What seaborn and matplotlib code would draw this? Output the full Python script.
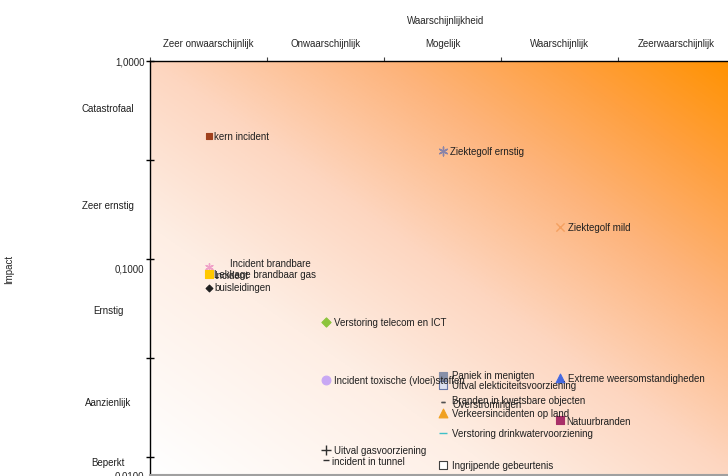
import numpy as np
import pandas as pd
import matplotlib
matplotlib.use("Agg")
import matplotlib.pyplot as plt
from matplotlib import ticker
from matplotlib.colors import LinearSegmentedColormap
import seaborn as sns

# categories
likelihood_labels = ["Zeer onwaarschijnlijk", "Onwaarschijnlijk", "Mogelijk",
                     "Waarschijnlijk", "Zeerwaarschijnlijk"]
impact_labels = ["Catastrofaal", "Zeer ernstig", "Ernstig", "Aanzienlijk", "Beperkt"]
impact_label_at = [0.593, 0.201, 0.0625, 0.0225, 0.0116]
impact_band_edges = [1.0, 0.332, 0.110, 0.0367, 0.0122]
impact_ticks = [1.0, 0.1, 0.01]

# risks (likelihood in category units, impact on log scale)
risks = [
    "kern incident", "Ziektegolf ernstig", "Ziektegolf mild",
    "Incident brandbare", "Lekkage brandbaar gas", "Incident\nbuisleidingen",
    "Verstoring telecom en ICT", "Incident toxische (vloei)stoffen",
    "Uitval gasvoorziening", "incident in tunnel",
    "Paniek in menigten", "Uitval elekticiteitsvoorziening",
    "Branden in kwetsbare objecten", "Overstromingen",
    "Verkeersincidenten op land", "Verstoring drinkwatervoorziening",
    "Ingrijpende gebeurtenis", "Extreme weersomstandigheden", "Natuurbranden",
]
likelihood = [0.5, 2.5, 3.5,
              0.5, 0.5, 0.5,
              1.5, 1.5,
              1.5, 1.5,
              2.5, 2.5,
              2.5, 2.5,
              2.5, 2.5,
              2.5, 3.5, 3.5]
impact = [0.432, 0.366, 0.158,
          0.101, 0.094, 0.080,
          0.0547, 0.0289,
          0.0132, 0.0118,
          0.0300, 0.0272,
          0.0225, 0.0225,
          0.0199, 0.0160,
          0.0112, 0.0294, 0.0184]

df = pd.DataFrame({"risk": risks, "likelihood": likelihood, "impact": impact})

# marker, face colour, edge colour, size
styles = {
    "kern incident": ("s", "#A0401C", "#A0401C", 20),
    "Ziektegolf ernstig": ((6, 2, 0), "#8A84A8", None, 40),
    "Ziektegolf mild": ("x", "#F4A060", None, 35),
    "Incident brandbare": ((6, 2, 0), "#F0A0C8", None, 30),
    "Lekkage brandbaar gas": ("s", "#FFC800", "#FFC800", 30),
    "Incident\nbuisleidingen": ("D", "#202020", "#202020", 12),
    "Verstoring telecom en ICT": ("D", "#8CC43C", "#8CC43C", 22),
    "Incident toxische (vloei)stoffen": ("o", "#C8A8F4", "#C8A8F4", 40),
    "Uitval gasvoorziening": ("+", "#303030", None, 50),
    "incident in tunnel": ("_", "#303030", None, 25),
    "Paniek in menigten": ("s", "#8890A8", "#8890A8", 30),
    "Uitval elekticiteitsvoorziening": ("s", "#DCE0F0", "#6878A8", 30),
    "Branden in kwetsbare objecten": ("_", "#505050", None, 12),
    "Overstromingen": ("_", "#505050", None, 12),
    "Verkeersincidenten op land": ("^", "#F0A020", "#F0A020", 40),
    "Verstoring drinkwatervoorziening": ("_", "#40C0C8", None, 40),
    "Ingrijpende gebeurtenis": ("s", "#FFFFFF", "#404040", 40),
    "Extreme weersomstandigheden": ("^", "#4468E0", "#4468E0", 40),
    "Natuurbranden": ("s", "#A83068", "#A83068", 30),
}
# label offsets in pixels (default is right of the marker)
label_offsets = {
    "Ziektegolf ernstig": (8, 0),
    "Ziektegolf mild": (8, 0),
    "Incident brandbare": (21, 4),
    "Incident\nbuisleidingen": (6, 7),
    "Verstoring telecom en ICT": (9, 0),
    "Incident toxische (vloei)stoffen": (9, 0),
    "Uitval gasvoorziening": (9, 0),
    "incident in tunnel": (6, -1),
    "Paniek in menigten": (10, 1),
    "Uitval elekticiteitsvoorziening": (10, 0),
    "Branden in kwetsbare objecten": (10, 2),
    "Overstromingen": (10, -2),
    "Verkeersincidenten op land": (10, 0),
    "Verstoring drinkwatervoorziening": (10, 0),
    "Ingrijpende gebeurtenis": (10, 0),
    "Extreme weersomstandigheden": (8, 0),
    "Natuurbranden": (7, -1),
}

sns.set_theme(style="white")
plt.rcParams["font.family"] = ["Liberation Sans", "DejaVu Sans"]
plt.rcParams["font.size"] = 7

W, H = 728, 477
fig = plt.figure(figsize=(W / 100, H / 100), dpi=100)
rect = [150 / W, 1 / H, 585 / W, 414 / H]

# gradient background: white in the lower left, orange in the upper right
bg = fig.add_axes(rect, zorder=0)
u, v = np.meshgrid(np.linspace(0, 1, 300), np.linspace(0, 1, 300))
t = 0.5 * u + 0.5 * v
cmap = LinearSegmentedColormap.from_list(
    "risk", [(0.0, "#FFFFFF"), (0.3, "#FEEEE4"), (0.5, "#FDD6C0"),
             (0.7, "#FDB47C"), (0.85, "#FFA040"), (1.0, "#FF9200")])
bg.imshow(t, cmap=cmap, origin="lower", aspect="auto", extent=(0, 1, 0, 1))
bg.axis("off")

ax = fig.add_axes(rect, zorder=1)
ax.set_facecolor("none")

for _, row in df.iterrows():
    marker, face, edge, size = styles[row.risk]
    kws = dict(marker=marker, s=size, color=face, ax=ax, zorder=3, legend=False)
    if edge is not None:
        kws.update(edgecolor=edge, linewidth=0.8)
    else:
        kws.update(linewidth=1.0)
    sns.scatterplot(x=[row.likelihood], y=[row.impact], **kws)
    dx, dy = label_offsets.get(row.risk, (6, 0))
    ax.annotate(row.risk, (row.likelihood, row.impact), xytext=(dx, dy),
                textcoords="offset pixels", ha="left", va="center",
                fontsize=7, color="#202020", zorder=4)

ax.set_yscale("log")
ax.set_xlim(0, 5)
ax.set_ylim(0.01, 1.0)

# x axis on top, category names between the ticks
ax.xaxis.tick_top()
ax.xaxis.set_major_locator(ticker.FixedLocator(np.arange(0, 6)))
ax.xaxis.set_major_formatter(ticker.NullFormatter())
ax.xaxis.set_minor_locator(ticker.FixedLocator(np.arange(len(likelihood_labels)) + 0.5))
ax.xaxis.set_minor_formatter(ticker.FixedFormatter(likelihood_labels))
ax.tick_params(axis="x", which="major", top=True, bottom=False, direction="out",
               length=3, width=0.8, color="#404040")
ax.tick_params(axis="x", which="minor", top=True, bottom=False, labeltop=True,
               labelbottom=False, length=0, pad=9, labelsize=7)
ax.xaxis.set_label_position("top")
ax.set_xlabel("Waarschijnlijkheid", fontsize=7)
ax.xaxis.set_label_coords((446 - 150) / 585, 1 + (62 - 24) / 414)

# y axis: decade labels plus band ticks
ax.yaxis.remove_overlapping_locs = False
ax.yaxis.set_major_locator(ticker.FixedLocator(impact_ticks))
ax.yaxis.set_major_formatter(
    ticker.FuncFormatter(lambda val, pos: f"{val:.4f}".replace(".", ",")))
ax.yaxis.set_minor_locator(ticker.FixedLocator(impact_band_edges))
ax.yaxis.set_minor_formatter(ticker.NullFormatter())
ax.tick_params(axis="y", which="major", left=True, length=0, pad=4, labelsize=7)
ax.tick_params(axis="y", which="minor", left=True, direction="inout",
               length=6, width=1.0, color="black")
ax.set_ylabel("Impact", fontsize=7)
ax.yaxis.set_label_coords(-(150 - 14) / 585, 0.5)

for name, val in zip(impact_labels, impact_label_at):
    ax.text(-(150 - 108) / 585, val, name, transform=ax.get_yaxis_transform(),
            ha="center", va="center", fontsize=7, color="#202020")

for side in ["left", "top"]:
    ax.spines[side].set_color("black")
    ax.spines[side].set_linewidth(1.0)
ax.spines["bottom"].set_color("#A0A0A0")
ax.spines["bottom"].set_linewidth(1.5)
ax.spines["right"].set_visible(False)
ax.grid(False)

fig.savefig("out.png", dpi=100)
